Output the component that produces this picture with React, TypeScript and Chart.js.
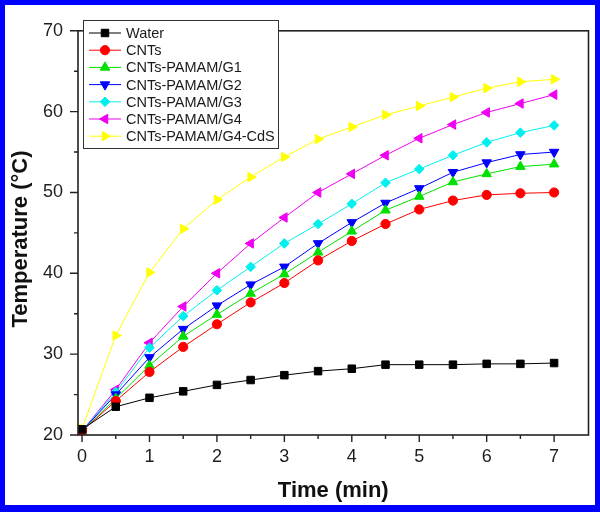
import React, { useEffect, useRef } from "react";
import { Chart, registerables } from "chart.js";
import { drawPoint } from "chart.js/helpers";

Chart.register(...registerables);

const times = [0, 0.5, 1, 1.5, 2, 2.5, 3, 3.5, 4, 4.5, 5, 5.5, 6, 6.5, 7];
const xTickValues = [0, 1, 2, 3, 4, 5, 6, 7];
const seriesNames = [
  "Water",
  "CNTs",
  "CNTs-PAMAM/G1",
  "CNTs-PAMAM/G2",
  "CNTs-PAMAM/G3",
  "CNTs-PAMAM/G4",
  "CNTs-PAMAM/G4-CdS",
];
const water = [20.7, 23.5, 24.6, 25.4, 26.2, 26.8, 27.4, 27.9, 28.2, 28.7, 28.7, 28.7, 28.8, 28.8, 28.9];
const cnts = [20.5, 24.2, 27.8, 30.9, 33.7, 36.4, 38.8, 41.6, 44.0, 46.1, 47.9, 49.0, 49.7, 49.9, 50.0];
const g1 = [20.5, 24.5, 28.6, 32.2, 34.9, 37.5, 39.9, 42.6, 45.2, 47.8, 49.5, 51.3, 52.3, 53.2, 53.5];
const g2 = [20.5, 25.0, 29.6, 33.1, 36.0, 38.6, 40.8, 43.7, 46.3, 48.7, 50.5, 52.5, 53.7, 54.7, 55.0];
const g3 = [20.5, 25.3, 30.8, 34.7, 37.9, 40.8, 43.7, 46.1, 48.6, 51.2, 52.9, 54.6, 56.2, 57.4, 58.3];
const g4 = [20.5, 25.6, 31.4, 35.9, 40.0, 43.7, 46.9, 50.0, 52.3, 54.6, 56.7, 58.4, 59.9, 61.0, 62.1];
const cds = [20.8, 32.3, 40.1, 45.5, 49.1, 51.9, 54.4, 56.6, 58.1, 59.6, 60.7, 61.8, 62.9, 63.7, 64.0];

const seriesValues = [water, cnts, g1, g2, g3, g4, cds];
const seriesColors = ["#000000", "#ff0000", "#00e000", "#0000ff", "#00f0f0", "#f000f0", "#ffff00"];
const seriesStyles = ["rect", "circle", "triangle", "triangle", "rectRot", "triangle", "triangle"];
const seriesRotations = [0, 0, 0, 180, 0, -90, 90];
const seriesRadius = [5.3, 4.6, 5.5, 5.5, 4.8, 5.5, 5.5];

const frameAndTicks = {
  id: "frameAndTicks",
  afterDraw(chart: any) {
    const { ctx, chartArea } = chart;
    const { left, right, top, bottom } = chartArea;
    const xs = chart.scales.x;
    const ys = chart.scales.y;
    ctx.save();
    ctx.strokeStyle = "#222";
    ctx.lineWidth = 1.6;
    ctx.strokeRect(left, top, right - left, bottom - top);
    ctx.lineWidth = 1.4;
    ctx.beginPath();
    for (let v = 0; v <= 7.001; v += 0.5) {
      const px = xs.getPixelForValue(v);
      const len = Math.abs(v - Math.round(v)) < 0.01 ? 7 : 4;
      ctx.moveTo(px, bottom);
      ctx.lineTo(px, bottom + len);
    }
    for (let v = 20; v <= 70.001; v += 5) {
      const py = ys.getPixelForValue(v);
      const len = v % 10 === 0 ? 8 : 4;
      ctx.moveTo(left, py);
      ctx.lineTo(left - len, py);
    }
    ctx.stroke();

    // legend box
    const bx = 78, by = 15, bw = 195, bh = 128;
    ctx.fillStyle = "#fff";
    ctx.fillRect(bx, by, bw, bh);
    ctx.strokeStyle = "#333";
    ctx.lineWidth = 1;
    ctx.strokeRect(bx + 0.5, by + 0.5, bw, bh);
    ctx.font = "14.5px 'Liberation Sans', Arial, sans-serif";
    ctx.textBaseline = "middle";
    ctx.textAlign = "left";
    chart.data.datasets.forEach((ds: any, i: number) => {
      const cy = by + 13 + i * 17.2;
      ctx.strokeStyle = ds.borderColor;
      ctx.lineWidth = 1;
      ctx.beginPath();
      ctx.moveTo(bx + 6, cy);
      ctx.lineTo(bx + 38, cy);
      ctx.stroke();
      ctx.fillStyle = ds.pointBackgroundColor;
      ctx.strokeStyle = ds.pointBorderColor;
      drawPoint(ctx, { pointStyle: ds.pointStyle, rotation: ds.pointRotation, radius: ds.pointRadius, borderWidth: 1 }, bx + 22, cy);
      ctx.fillStyle = "#1a1a1a";
      ctx.fillText(ds.label, bx + 43, cy + 1);
    });
    ctx.restore();
  },
};

export default function App() {
  const ref = useRef<HTMLCanvasElement>(null);
  useEffect(() => {
    document.body.style.margin = "0";
    const datasets = seriesNames.map((name, i) => ({
      label: name,
      data: times.map((t, j) => ({ x: t, y: seriesValues[i][j] })),
      borderColor: seriesColors[i],
      backgroundColor: seriesColors[i],
      pointBackgroundColor: seriesColors[i],
      pointBorderColor: seriesColors[i],
      borderWidth: 1,
      pointStyle: seriesStyles[i],
      pointRotation: seriesRotations[i],
      pointRadius: seriesRadius[i],
      pointBorderWidth: 1,
      tension: 0,
    }));
    const chart = new Chart(ref.current!, {
      type: "line",
      data: { datasets: datasets.slice().reverse() as any },
      options: {
        animation: false,
        responsive: false,
        layout: { padding: { left: 0, right: 2, top: 11, bottom: 0 } },
        plugins: { legend: { display: false }, tooltip: { enabled: false } },
        scales: {
          x: {
            type: "linear",
            min: -0.06,
            max: 7.51,
            grid: { display: false, drawTicks: false },
            border: { display: false },
            afterBuildTicks: (s: any) => {
              s.ticks = xTickValues.map((v) => ({ value: v }));
            },
            afterFit: (s: any) => {
              s.height = 70;
            },
            ticks: {
              padding: 11,
              color: "#1e1e1e",
              font: { family: "'Liberation Sans', Arial, sans-serif", size: 18 },
              maxRotation: 0,
              autoSkip: false,
            },
            title: {
              display: true,
              text: "Time (min)",
              color: "#111",
              font: { family: "'Liberation Sans', Arial, sans-serif", size: 22, weight: "bold" },
              padding: { top: 0, bottom: 1 },
            },
          },
          y: {
            min: 20,
            max: 70,
            grid: { display: false, drawTicks: false },
            border: { display: false },
            afterFit: (s: any) => {
              s.width = 73;
            },
            ticks: {
              stepSize: 10,
              padding: 15,
              color: "#1e1e1e",
              font: { family: "'Liberation Sans', Arial, sans-serif", size: 18 },
            },
            title: {
              display: true,
              text: "Temperature (°C)  ",
              color: "#111",
              font: { family: "'Liberation Sans', Arial, sans-serif", size: 22, weight: "bold" },
              padding: { top: 3, bottom: 0 },
            },
          },
        },
      } as any,
      plugins: [frameAndTicks],
    });
    // restore legend order (datasets reversed so Water draws on top)
    chart.data.datasets.reverse();
    chart.update("none");
    return () => chart.destroy();
  }, []);
  return (
    <div
      style={{
        width: 600,
        height: 512,
        boxSizing: "border-box",
        borderStyle: "solid",
        borderColor: "#0000ff",
        borderWidth: "5px 5px 7px 5px",
        background: "#fff",
      }}
    >
      <canvas ref={ref} width={590} height={500} style={{ display: "block" }} />
    </div>
  );
}
